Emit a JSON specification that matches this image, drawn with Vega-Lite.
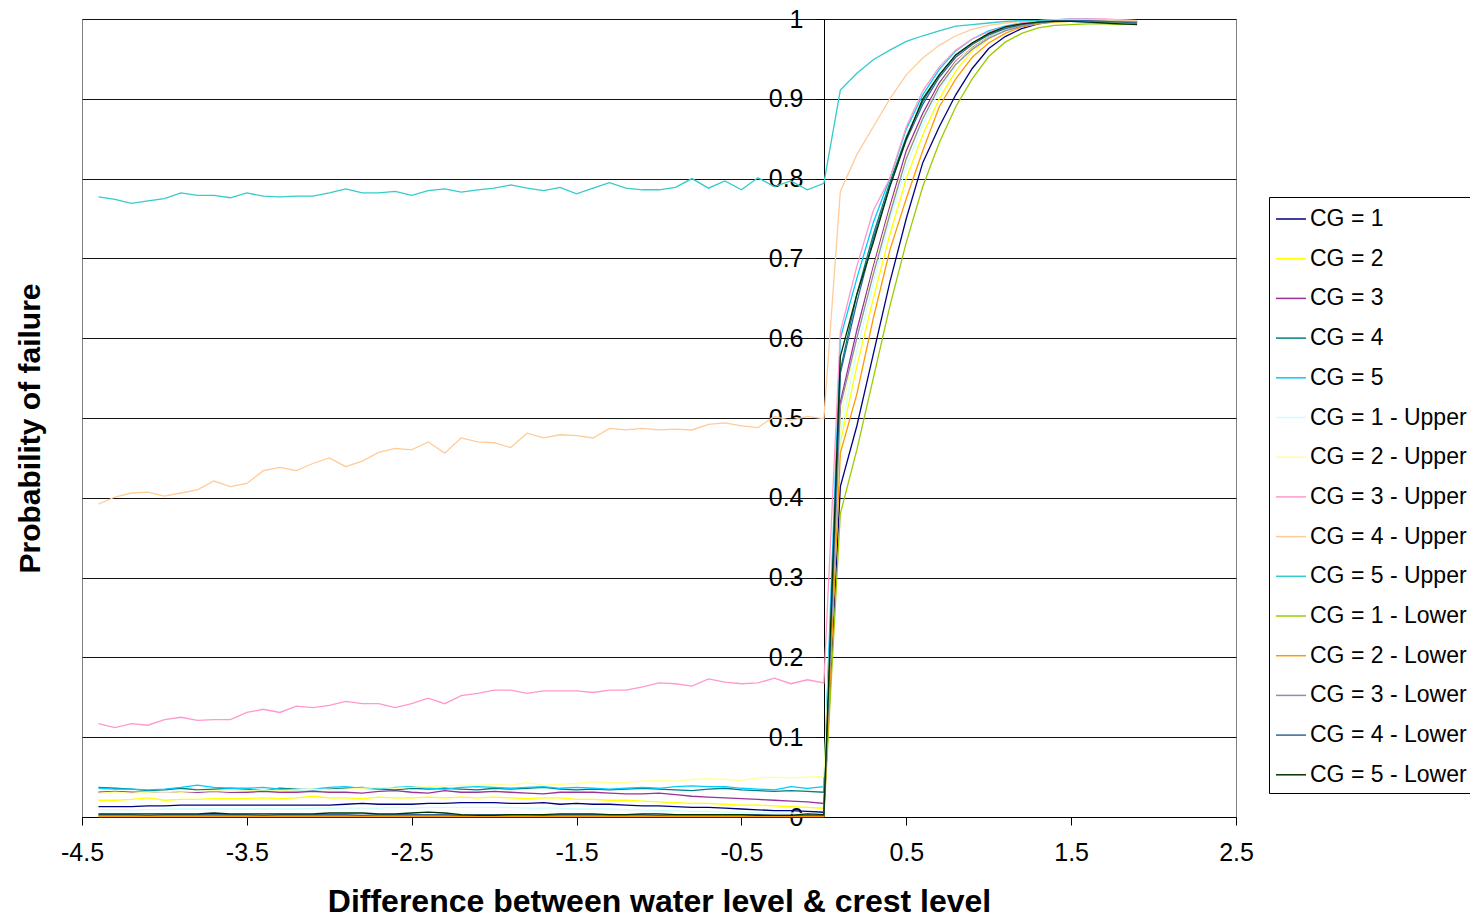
{
  "$schema": "https://vega.github.io/schema/vega-lite/v6.json",
  "width": 1154,
  "height": 798,
  "autosize": {"type": "none"},
  "padding": {"left": 82, "top": 19, "right": 234, "bottom": 100},
  "background": "white",
  "datasets": {
    "names": [
      {"k": "c1", "name": "CG = 1"}, {"k": "c2", "name": "CG = 2"}, {"k": "c3", "name": "CG = 3"},
      {"k": "c4", "name": "CG = 4"}, {"k": "c5", "name": "CG = 5"},
      {"k": "u1", "name": "CG = 1 - Upper"}, {"k": "u2", "name": "CG = 2 - Upper"}, {"k": "u3", "name": "CG = 3 - Upper"},
      {"k": "u4", "name": "CG = 4 - Upper"}, {"k": "u5", "name": "CG = 5 - Upper"},
      {"k": "l1", "name": "CG = 1 - Lower"}, {"k": "l2", "name": "CG = 2 - Lower"}, {"k": "l3", "name": "CG = 3 - Lower"},
      {"k": "l4", "name": "CG = 4 - Lower"}, {"k": "l5", "name": "CG = 5 - Lower"}
    ]
  },
  "data": {
    "values": [
      {"x": -4.4, "c1": 0.013, "c2": 0.021, "c3": 0.031, "c4": 0.037, "c5": 0.036, "u1": 0.009, "u2": 0.030, "u3": 0.117, "u4": 0.392, "u5": 0.777, "l1": 0.001, "l2": 0.0005, "l3": 0.002, "l4": 0.003, "l5": 0.004},
      {"x": -4.3, "c1": 0.013, "c2": 0.021, "c3": 0.032, "c4": 0.036, "c5": 0.035, "u1": 0.009, "u2": 0.031, "u3": 0.112, "u4": 0.401, "u5": 0.774, "l1": 0.001, "l2": 0.0005, "l3": 0.002, "l4": 0.003, "l5": 0.004},
      {"x": -4.2, "c1": 0.013, "c2": 0.022, "c3": 0.031, "c4": 0.035, "c5": 0.035, "u1": 0.009, "u2": 0.030, "u3": 0.117, "u4": 0.406, "u5": 0.769, "l1": 0.001, "l2": 0.0005, "l3": 0.002, "l4": 0.003, "l5": 0.004},
      {"x": -4.1, "c1": 0.014, "c2": 0.024, "c3": 0.031, "c4": 0.033, "c5": 0.034, "u1": 0.009, "u2": 0.031, "u3": 0.115, "u4": 0.407, "u5": 0.772, "l1": 0.001, "l2": 0.0005, "l3": 0.002, "l4": 0.002, "l5": 0.004},
      {"x": -4.0, "c1": 0.014, "c2": 0.021, "c3": 0.032, "c4": 0.034, "c5": 0.035, "u1": 0.010, "u2": 0.032, "u3": 0.122, "u4": 0.402, "u5": 0.775, "l1": 0.001, "l2": 0.0005, "l3": 0.002, "l4": 0.003, "l5": 0.004},
      {"x": -3.9, "c1": 0.015, "c2": 0.022, "c3": 0.031, "c4": 0.036, "c5": 0.037, "u1": 0.010, "u2": 0.031, "u3": 0.125, "u4": 0.406, "u5": 0.782, "l1": 0.001, "l2": 0.0005, "l3": 0.002, "l4": 0.003, "l5": 0.004},
      {"x": -3.8, "c1": 0.015, "c2": 0.022, "c3": 0.031, "c4": 0.034, "c5": 0.040, "u1": 0.010, "u2": 0.032, "u3": 0.121, "u4": 0.410, "u5": 0.779, "l1": 0.001, "l2": 0.0005, "l3": 0.002, "l4": 0.003, "l5": 0.004},
      {"x": -3.7, "c1": 0.015, "c2": 0.023, "c3": 0.032, "c4": 0.035, "c5": 0.037, "u1": 0.010, "u2": 0.033, "u3": 0.122, "u4": 0.421, "u5": 0.779, "l1": 0.001, "l2": 0.0005, "l3": 0.002, "l4": 0.003, "l5": 0.005},
      {"x": -3.6, "c1": 0.015, "c2": 0.023, "c3": 0.031, "c4": 0.036, "c5": 0.036, "u1": 0.010, "u2": 0.032, "u3": 0.122, "u4": 0.414, "u5": 0.776, "l1": 0.001, "l2": 0.0005, "l3": 0.002, "l4": 0.003, "l5": 0.004},
      {"x": -3.5, "c1": 0.015, "c2": 0.023, "c3": 0.031, "c4": 0.035, "c5": 0.036, "u1": 0.010, "u2": 0.033, "u3": 0.131, "u4": 0.418, "u5": 0.782, "l1": 0.001, "l2": 0.0005, "l3": 0.002, "l4": 0.003, "l5": 0.004},
      {"x": -3.4, "c1": 0.015, "c2": 0.024, "c3": 0.032, "c4": 0.033, "c5": 0.037, "u1": 0.010, "u2": 0.034, "u3": 0.135, "u4": 0.434, "u5": 0.778, "l1": 0.001, "l2": 0.0005, "l3": 0.002, "l4": 0.002, "l5": 0.004},
      {"x": -3.3, "c1": 0.015, "c2": 0.023, "c3": 0.031, "c4": 0.036, "c5": 0.035, "u1": 0.010, "u2": 0.033, "u3": 0.131, "u4": 0.438, "u5": 0.777, "l1": 0.001, "l2": 0.0005, "l3": 0.002, "l4": 0.003, "l5": 0.004},
      {"x": -3.2, "c1": 0.015, "c2": 0.024, "c3": 0.031, "c4": 0.035, "c5": 0.034, "u1": 0.010, "u2": 0.034, "u3": 0.139, "u4": 0.434, "u5": 0.778, "l1": 0.001, "l2": 0.0005, "l3": 0.002, "l4": 0.003, "l5": 0.004},
      {"x": -3.1, "c1": 0.015, "c2": 0.026, "c3": 0.032, "c4": 0.034, "c5": 0.035, "u1": 0.011, "u2": 0.035, "u3": 0.137, "u4": 0.443, "u5": 0.778, "l1": 0.001, "l2": 0.0005, "l3": 0.002, "l4": 0.003, "l5": 0.004},
      {"x": -3.0, "c1": 0.015, "c2": 0.024, "c3": 0.031, "c4": 0.035, "c5": 0.037, "u1": 0.011, "u2": 0.034, "u3": 0.140, "u4": 0.450, "u5": 0.782, "l1": 0.001, "l2": 0.0005, "l3": 0.002, "l4": 0.003, "l5": 0.005},
      {"x": -2.9, "c1": 0.016, "c2": 0.024, "c3": 0.031, "c4": 0.036, "c5": 0.038, "u1": 0.011, "u2": 0.035, "u3": 0.145, "u4": 0.439, "u5": 0.787, "l1": 0.001, "l2": 0.0005, "l3": 0.002, "l4": 0.003, "l5": 0.005},
      {"x": -2.8, "c1": 0.017, "c2": 0.023, "c3": 0.030, "c4": 0.037, "c5": 0.036, "u1": 0.011, "u2": 0.036, "u3": 0.142, "u4": 0.446, "u5": 0.782, "l1": 0.001, "l2": 0.0005, "l3": 0.002, "l4": 0.002, "l5": 0.005},
      {"x": -2.7, "c1": 0.016, "c2": 0.025, "c3": 0.032, "c4": 0.035, "c5": 0.035, "u1": 0.011, "u2": 0.037, "u3": 0.142, "u4": 0.457, "u5": 0.782, "l1": 0.001, "l2": 0.0005, "l3": 0.002, "l4": 0.003, "l5": 0.004},
      {"x": -2.6, "c1": 0.016, "c2": 0.024, "c3": 0.033, "c4": 0.034, "c5": 0.037, "u1": 0.012, "u2": 0.036, "u3": 0.137, "u4": 0.462, "u5": 0.784, "l1": 0.001, "l2": 0.0005, "l3": 0.002, "l4": 0.003, "l5": 0.004},
      {"x": -2.5, "c1": 0.016, "c2": 0.024, "c3": 0.031, "c4": 0.036, "c5": 0.038, "u1": 0.011, "u2": 0.037, "u3": 0.142, "u4": 0.460, "u5": 0.779, "l1": 0.001, "l2": 0.0005, "l3": 0.002, "l4": 0.003, "l5": 0.005},
      {"x": -2.4, "c1": 0.017, "c2": 0.025, "c3": 0.030, "c4": 0.035, "c5": 0.036, "u1": 0.012, "u2": 0.038, "u3": 0.149, "u4": 0.470, "u5": 0.785, "l1": 0.001, "l2": 0.0005, "l3": 0.002, "l4": 0.003, "l5": 0.006},
      {"x": -2.3, "c1": 0.017, "c2": 0.024, "c3": 0.033, "c4": 0.036, "c5": 0.035, "u1": 0.012, "u2": 0.039, "u3": 0.142, "u4": 0.456, "u5": 0.787, "l1": 0.001, "l2": 0.0005, "l3": 0.002, "l4": 0.003, "l5": 0.005},
      {"x": -2.2, "c1": 0.018, "c2": 0.025, "c3": 0.031, "c4": 0.035, "c5": 0.037, "u1": 0.012, "u2": 0.040, "u3": 0.152, "u4": 0.475, "u5": 0.783, "l1": 0.001, "l2": 0.0005, "l3": 0.002, "l4": 0.002, "l5": 0.003},
      {"x": -2.1, "c1": 0.018, "c2": 0.024, "c3": 0.031, "c4": 0.034, "c5": 0.038, "u1": 0.012, "u2": 0.040, "u3": 0.155, "u4": 0.470, "u5": 0.786, "l1": 0.001, "l2": 0.0005, "l3": 0.002, "l4": 0.003, "l5": 0.002},
      {"x": -2.0, "c1": 0.018, "c2": 0.025, "c3": 0.032, "c4": 0.036, "c5": 0.037, "u1": 0.012, "u2": 0.041, "u3": 0.159, "u4": 0.469, "u5": 0.788, "l1": 0.001, "l2": 0.0005, "l3": 0.002, "l4": 0.003, "l5": 0.002},
      {"x": -1.9, "c1": 0.017, "c2": 0.024, "c3": 0.031, "c4": 0.035, "c5": 0.036, "u1": 0.012, "u2": 0.040, "u3": 0.159, "u4": 0.463, "u5": 0.792, "l1": 0.001, "l2": 0.0005, "l3": 0.002, "l4": 0.003, "l5": 0.003},
      {"x": -1.8, "c1": 0.017, "c2": 0.023, "c3": 0.030, "c4": 0.036, "c5": 0.037, "u1": 0.011, "u2": 0.043, "u3": 0.155, "u4": 0.481, "u5": 0.788, "l1": 0.001, "l2": 0.0005, "l3": 0.002, "l4": 0.003, "l5": 0.003},
      {"x": -1.7, "c1": 0.018, "c2": 0.024, "c3": 0.029, "c4": 0.037, "c5": 0.038, "u1": 0.011, "u2": 0.040, "u3": 0.158, "u4": 0.475, "u5": 0.785, "l1": 0.001, "l2": 0.0005, "l3": 0.002, "l4": 0.002, "l5": 0.003},
      {"x": -1.6, "c1": 0.016, "c2": 0.024, "c3": 0.031, "c4": 0.035, "c5": 0.036, "u1": 0.011, "u2": 0.041, "u3": 0.158, "u4": 0.479, "u5": 0.789, "l1": 0.001, "l2": 0.0005, "l3": 0.002, "l4": 0.003, "l5": 0.004},
      {"x": -1.5, "c1": 0.017, "c2": 0.022, "c3": 0.031, "c4": 0.034, "c5": 0.037, "u1": 0.010, "u2": 0.042, "u3": 0.158, "u4": 0.478, "u5": 0.781, "l1": 0.001, "l2": 0.0005, "l3": 0.002, "l4": 0.003, "l5": 0.004},
      {"x": -1.4, "c1": 0.016, "c2": 0.022, "c3": 0.031, "c4": 0.035, "c5": 0.036, "u1": 0.010, "u2": 0.044, "u3": 0.156, "u4": 0.475, "u5": 0.788, "l1": 0.001, "l2": 0.0005, "l3": 0.002, "l4": 0.003, "l5": 0.004},
      {"x": -1.3, "c1": 0.016, "c2": 0.021, "c3": 0.030, "c4": 0.034, "c5": 0.035, "u1": 0.010, "u2": 0.043, "u3": 0.159, "u4": 0.487, "u5": 0.795, "l1": 0.001, "l2": 0.0005, "l3": 0.002, "l4": 0.003, "l5": 0.003},
      {"x": -1.2, "c1": 0.015, "c2": 0.021, "c3": 0.029, "c4": 0.035, "c5": 0.036, "u1": 0.009, "u2": 0.043, "u3": 0.159, "u4": 0.485, "u5": 0.788, "l1": 0.001, "l2": 0.0005, "l3": 0.002, "l4": 0.003, "l5": 0.003},
      {"x": -1.1, "c1": 0.014, "c2": 0.020, "c3": 0.029, "c4": 0.036, "c5": 0.037, "u1": 0.009, "u2": 0.045, "u3": 0.163, "u4": 0.487, "u5": 0.786, "l1": 0.001, "l2": 0.0005, "l3": 0.002, "l4": 0.003, "l5": 0.004},
      {"x": -1.0, "c1": 0.014, "c2": 0.019, "c3": 0.030, "c4": 0.035, "c5": 0.036, "u1": 0.008, "u2": 0.046, "u3": 0.168, "u4": 0.485, "u5": 0.786, "l1": 0.001, "l2": 0.0005, "l3": 0.002, "l4": 0.002, "l5": 0.004},
      {"x": -0.9, "c1": 0.013, "c2": 0.018, "c3": 0.028, "c4": 0.034, "c5": 0.038, "u1": 0.008, "u2": 0.045, "u3": 0.167, "u4": 0.486, "u5": 0.789, "l1": 0.001, "l2": 0.0005, "l3": 0.002, "l4": 0.003, "l5": 0.003},
      {"x": -0.8, "c1": 0.012, "c2": 0.017, "c3": 0.026, "c4": 0.033, "c5": 0.039, "u1": 0.007, "u2": 0.047, "u3": 0.164, "u4": 0.485, "u5": 0.800, "l1": 0.001, "l2": 0.0005, "l3": 0.002, "l4": 0.003, "l5": 0.003},
      {"x": -0.7, "c1": 0.012, "c2": 0.017, "c3": 0.025, "c4": 0.035, "c5": 0.038, "u1": 0.007, "u2": 0.048, "u3": 0.173, "u4": 0.492, "u5": 0.788, "l1": 0.001, "l2": 0.0005, "l3": 0.002, "l4": 0.003, "l5": 0.003},
      {"x": -0.6, "c1": 0.011, "c2": 0.016, "c3": 0.024, "c4": 0.036, "c5": 0.038, "u1": 0.006, "u2": 0.047, "u3": 0.169, "u4": 0.494, "u5": 0.797, "l1": 0.001, "l2": 0.0005, "l3": 0.002, "l4": 0.003, "l5": 0.003},
      {"x": -0.5, "c1": 0.010, "c2": 0.015, "c3": 0.023, "c4": 0.034, "c5": 0.036, "u1": 0.006, "u2": 0.046, "u3": 0.167, "u4": 0.490, "u5": 0.786, "l1": 0.001, "l2": 0.0005, "l3": 0.002, "l4": 0.003, "l5": 0.003},
      {"x": -0.4, "c1": 0.009, "c2": 0.015, "c3": 0.022, "c4": 0.033, "c5": 0.035, "u1": 0.005, "u2": 0.049, "u3": 0.168, "u4": 0.488, "u5": 0.801, "l1": 0.001, "l2": 0.0005, "l3": 0.002, "l4": 0.003, "l5": 0.002},
      {"x": -0.3, "c1": 0.008, "c2": 0.014, "c3": 0.021, "c4": 0.032, "c5": 0.034, "u1": 0.005, "u2": 0.050, "u3": 0.174, "u4": 0.502, "u5": 0.790, "l1": 0.001, "l2": 0.0005, "l3": 0.002, "l4": 0.002, "l5": 0.002},
      {"x": -0.2, "c1": 0.008, "c2": 0.013, "c3": 0.020, "c4": 0.033, "c5": 0.038, "u1": 0.005, "u2": 0.049, "u3": 0.167, "u4": 0.497, "u5": 0.797, "l1": 0.001, "l2": 0.0005, "l3": 0.002, "l4": 0.002, "l5": 0.002},
      {"x": -0.1, "c1": 0.007, "c2": 0.012, "c3": 0.019, "c4": 0.032, "c5": 0.036, "u1": 0.004, "u2": 0.050, "u3": 0.172, "u4": 0.502, "u5": 0.786, "l1": 0.001, "l2": 0.0005, "l3": 0.002, "l4": 0.002, "l5": 0.004},
      {"x": 0.0, "c1": 0.006, "c2": 0.011, "c3": 0.017, "c4": 0.031, "c5": 0.038, "u1": 0.004, "u2": 0.051, "u3": 0.168, "u4": 0.499, "u5": 0.794, "l1": 0.001, "l2": 0.0005, "l3": 0.002, "l4": 0.002, "l5": 0.003},
      {"x": 0.1, "c1": 0.414, "c2": 0.469, "c3": 0.52, "c4": 0.56, "c5": 0.60, "u1": 0.48, "u2": 0.50, "u3": 0.608, "u4": 0.784, "u5": 0.911, "l1": 0.38, "l2": 0.456, "l3": 0.515, "l4": 0.556, "l5": 0.577},
      {"x": 0.2, "c1": 0.49, "c2": 0.565, "c3": 0.61, "c4": 0.655, "c5": 0.675, "u1": 0.585, "u2": 0.60, "u3": 0.69, "u4": 0.83, "u5": 0.932, "l1": 0.46, "l2": 0.53, "l3": 0.60, "l4": 0.645, "l5": 0.655},
      {"x": 0.3, "c1": 0.58, "c2": 0.65, "c3": 0.69, "c4": 0.73, "c5": 0.745, "u1": 0.67, "u2": 0.685, "u3": 0.76, "u4": 0.865, "u5": 0.949, "l1": 0.55, "l2": 0.625, "l3": 0.68, "l4": 0.725, "l5": 0.72},
      {"x": 0.4, "c1": 0.67, "c2": 0.73, "c3": 0.765, "c4": 0.795, "c5": 0.80, "u1": 0.748, "u2": 0.76, "u3": 0.80, "u4": 0.90, "u5": 0.961, "l1": 0.64, "l2": 0.71, "l3": 0.755, "l4": 0.79, "l5": 0.79},
      {"x": 0.5, "c1": 0.75, "c2": 0.80, "c3": 0.835, "c4": 0.852, "c5": 0.862, "u1": 0.815, "u2": 0.828, "u3": 0.865, "u4": 0.93, "u5": 0.972, "l1": 0.72, "l2": 0.775, "l3": 0.825, "l4": 0.848, "l5": 0.85},
      {"x": 0.6, "c1": 0.82, "c2": 0.855, "c3": 0.882, "c4": 0.897, "c5": 0.905, "u1": 0.868, "u2": 0.877, "u3": 0.91, "u4": 0.951, "u5": 0.979, "l1": 0.79, "l2": 0.835, "l3": 0.875, "l4": 0.893, "l5": 0.90},
      {"x": 0.7, "c1": 0.865, "c2": 0.90, "c3": 0.92, "c4": 0.93, "c5": 0.937, "u1": 0.91, "u2": 0.917, "u3": 0.94, "u4": 0.967, "u5": 0.985, "l1": 0.845, "l2": 0.89, "l3": 0.915, "l4": 0.927, "l5": 0.93},
      {"x": 0.8, "c1": 0.905, "c2": 0.935, "c3": 0.947, "c4": 0.955, "c5": 0.96, "u1": 0.942, "u2": 0.946, "u3": 0.961, "u4": 0.979, "u5": 0.991, "l1": 0.89, "l2": 0.925, "l3": 0.943, "l4": 0.952, "l5": 0.955},
      {"x": 0.9, "c1": 0.938, "c2": 0.96, "c3": 0.965, "c4": 0.97, "c5": 0.975, "u1": 0.963, "u2": 0.966, "u3": 0.975, "u4": 0.987, "u5": 0.993, "l1": 0.925, "l2": 0.952, "l3": 0.962, "l4": 0.968, "l5": 0.97},
      {"x": 1.0, "c1": 0.963, "c2": 0.975, "c3": 0.978, "c4": 0.981, "c5": 0.985, "u1": 0.977, "u2": 0.979, "u3": 0.984, "u4": 0.992, "u5": 0.995, "l1": 0.953, "l2": 0.97, "l3": 0.976, "l4": 0.98, "l5": 0.982},
      {"x": 1.1, "c1": 0.978, "c2": 0.986, "c3": 0.987, "c4": 0.989, "c5": 0.991, "u1": 0.987, "u2": 0.988, "u3": 0.99, "u4": 0.995, "u5": 0.997, "l1": 0.971, "l2": 0.982, "l3": 0.985, "l4": 0.988, "l5": 0.99},
      {"x": 1.2, "c1": 0.988, "c2": 0.992, "c3": 0.993, "c4": 0.994, "c5": 0.995, "u1": 0.993, "u2": 0.994, "u3": 0.995, "u4": 0.997, "u5": 0.998, "l1": 0.982, "l2": 0.99, "l3": 0.991, "l4": 0.993, "l5": 0.994},
      {"x": 1.3, "c1": 0.994, "c2": 0.996, "c3": 0.996, "c4": 0.997, "c5": 0.998, "u1": 0.996, "u2": 0.997, "u3": 0.998, "u4": 0.998, "u5": 0.998, "l1": 0.989, "l2": 0.994, "l3": 0.995, "l4": 0.996, "l5": 0.996},
      {"x": 1.4, "c1": 0.997, "c2": 0.997, "c3": 0.998, "c4": 0.999, "c5": 0.999, "u1": 0.998, "u2": 0.998, "u3": 0.999, "u4": 0.999, "u5": 0.998, "l1": 0.992, "l2": 0.996, "l3": 0.997, "l4": 0.998, "l5": 0.997},
      {"x": 1.5, "c1": 0.998, "c2": 0.998, "c3": 0.999, "c4": 0.999, "c5": 1.0, "u1": 0.999, "u2": 0.999, "u3": 1.0, "u4": 0.999, "u5": 0.997, "l1": 0.993, "l2": 0.997, "l3": 0.998, "l4": 0.998, "l5": 0.997},
      {"x": 1.6, "c1": 0.998, "c2": 0.998, "c3": 0.999, "c4": 0.999, "c5": 1.0, "u1": 0.999, "u2": 0.999, "u3": 1.0, "u4": 0.999, "u5": 0.996, "l1": 0.994, "l2": 0.997, "l3": 0.998, "l4": 0.998, "l5": 0.996},
      {"x": 1.7, "c1": 0.998, "c2": 0.998, "c3": 0.998, "c4": 0.998, "c5": 0.999, "u1": 0.999, "u2": 0.999, "u3": 1.0, "u4": 0.999, "u5": 0.996, "l1": 0.994, "l2": 0.997, "l3": 0.997, "l4": 0.997, "l5": 0.995},
      {"x": 1.8, "c1": 0.997, "c2": 0.998, "c3": 0.998, "c4": 0.998, "c5": 0.998, "u1": 0.998, "u2": 0.998, "u3": 0.999, "u4": 0.999, "u5": 0.995, "l1": 0.993, "l2": 0.996, "l3": 0.997, "l4": 0.996, "l5": 0.994},
      {"x": 1.9, "c1": 0.997, "c2": 0.997, "c3": 0.997, "c4": 0.997, "c5": 0.997, "u1": 0.998, "u2": 0.998, "u3": 0.998, "u4": 0.998, "u5": 0.995, "l1": 0.994, "l2": 0.996, "l3": 0.996, "l4": 0.995, "l5": 0.993}
    ]
  },
  "transform": [
    {"fold": ["c1", "c2", "c3", "c4", "c5", "u1", "u2", "u3", "u4", "u5", "l1", "l2", "l3", "l4", "l5"], "as": ["k", "p"]},
    {"lookup": "k", "from": {"data": {"name": "names"}, "key": "k", "fields": ["name"]}}
  ],
  "mark": {"type": "line", "strokeWidth": 1.3},
  "encoding": {
    "x": {
      "field": "x", "type": "quantitative",
      "scale": {"domain": [-4.5, 2.5], "nice": false, "zero": false},
      "axis": {
        "values": [-4.5, -3.5, -2.5, -1.5, -0.5, 0.5, 1.5, 2.5],
        "labelExpr": "'' + datum.value",
        "labelFlush": false,
        "grid": false,
        "tickSize": 8,
        "labelFontSize": 25,
        "labelPadding": 15,
        "title": "Difference between water level & crest level",
        "titleFontSize": 32,
        "titleFontWeight": "bold",
        "titlePadding": 21
      }
    },
    "y": {
      "field": "p", "type": "quantitative",
      "scale": {"domain": [0, 1], "nice": false},
      "axis": {
        "values": [0, 0.1, 0.2, 0.3, 0.4, 0.5, 0.6, 0.7, 0.8, 0.9, 1],
        "labelExpr": "'' + datum.value",
        "labelFlush": false,
        "offset": -742,
        "grid": true,
        "gridColor": "#111111",
        "gridWidth": 1,
        "tickSize": 8,
        "labelFontSize": 25,
        "labelPadding": 13,
        "title": "Probability of failure",
        "titleFontSize": 30,
        "titleFontWeight": "bold",
        "titleX": -794,
        "titleY": 409,
        "titleAngle": -90,
        "titleAlign": "center",
        "titleBaseline": "middle"
      }
    },
    "color": {
      "field": "name", "type": "nominal",
      "scale": {
        "domain": ["CG = 1", "CG = 2", "CG = 3", "CG = 4", "CG = 5", "CG = 1 - Upper", "CG = 2 - Upper", "CG = 3 - Upper", "CG = 4 - Upper", "CG = 5 - Upper", "CG = 1 - Lower", "CG = 2 - Lower", "CG = 3 - Lower", "CG = 4 - Lower", "CG = 5 - Lower"],
        "range": ["#000080", "#FFFF00", "#993399", "#008080", "#00CCFF", "#CCFFFF", "#FFFF99", "#FF99CC", "#FFCC99", "#33CCCC", "#99CC00", "#FF9900", "#8C8CB4", "#336699", "#003300"]
      },
      "legend": {
        "orient": "none",
        "legendX": 1187,
        "legendY": 178,
        "title": null,
        "symbolType": "stroke",
        "symbolSize": 900,
        "symbolStrokeWidth": 1.5,
        "labelFontSize": 23,
        "labelOffset": 3,
        "labelLimit": 300,
        "rowPadding": 11.7,
        "padding": 6,
        "strokeColor": "#000000",
        "fillColor": "#ffffff"
      }
    }
  },
  "config": {
    "font": "Liberation Sans",
    "view": {"stroke": "#808080", "strokeWidth": 1},
    "axis": {
      "labelFont": "Liberation Sans",
      "titleFont": "Liberation Sans",
      "labelColor": "#000000",
      "titleColor": "#000000",
      "domainColor": "#000000",
      "tickColor": "#000000",
      "domainWidth": 1,
      "tickWidth": 1
    },
    "legend": {"labelFont": "Liberation Sans", "labelColor": "#000000"}
  }
}
